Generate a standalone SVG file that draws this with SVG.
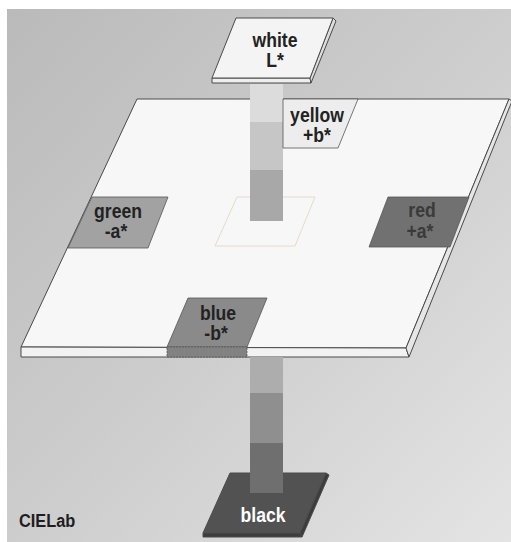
<svg xmlns="http://www.w3.org/2000/svg" width="511" height="542" viewBox="0 0 511 542">
  <defs>
    <linearGradient id="bg" x1="0" y1="0" x2="1" y2="1">
      <stop offset="0" stop-color="#bababa"/>
      <stop offset="0.5" stop-color="#cdcdcd"/>
      <stop offset="1" stop-color="#e4e4e4"/>
    </linearGradient>
  </defs>
  <style>
    .lbl { font-family: "Liberation Sans", Arial, sans-serif; font-weight: bold; font-size: 20px; text-anchor: middle; fill: #222; }
    .edge { stroke: #4a4a4a; stroke-width: 1; stroke-linejoin: round; }
    .tag { stroke: #555; stroke-width: 0.8; }
  </style>
  <rect x="0" y="0" width="511" height="542" fill="#ffffff"/>
  <rect x="7" y="9" width="504" height="533" fill="url(#bg)"/>

  <g id="plane">
    <polygon class="edge" points="137,99 509,99 406,348 21,347" fill="#f7f7f7"/>
    <polygon class="edge" points="21,347 406,348 409,357 21,357" fill="#f2f2f2"/>
    <polygon class="edge" points="509,99 512,101 409,357 406,348" fill="#e6e6e6"/>
    <polygon points="237,197 315,197 295,246 215,246" fill="none" stroke="#e2dccb" stroke-width="1"/>
  </g>

  <g id="black">
    <polygon class="edge" points="203,533 300,533 302,537 203,537" fill="#3c3c3c"/>
    <polygon class="edge" points="326,473 329,475 302,537 300,533" fill="#3c3c3c"/>
    <polygon class="edge" points="230,473 326,473 300,533 203,533" fill="#525252"/>
  </g>

  <g id="connectors">
    <rect x="250" y="84" width="33" height="38" fill="#dcdcdc"/>
    <rect x="250" y="122" width="33" height="48" fill="#c6c6c6"/>
    <rect x="250" y="170" width="33" height="51" fill="#a8a8a8"/>
    <rect x="250" y="357" width="33" height="36" fill="#adadad"/>
    <rect x="250" y="393" width="33" height="50" fill="#8f8f8f"/>
    <rect x="250" y="443" width="33" height="50" fill="#6f6f6f"/>
  </g>

  <g id="white">
    <polygon class="edge" points="212,78 310,78 311,83 212,83" fill="#eeeeee"/>
    <polygon class="edge" points="333,18 336,21 311,83 310,78" fill="#dddddd"/>
    <polygon class="edge" points="236,18 333,18 310,78 212,78" fill="#f4f4f4"/>
    <text class="lbl" transform="translate(275,47) scale(0.88,1)">white</text>
    <text class="lbl" transform="translate(275,67) scale(0.88,1)">L*</text>
  </g>

  <g id="yellow">
    <polygon class="tag" points="283,99 358,99 338,148 283,148" fill="#ededed"/>
    <text class="lbl" transform="translate(317,122) scale(0.88,1)">yellow</text>
    <text class="lbl" transform="translate(317,142) scale(0.88,1)">+b*</text>
  </g>

  <g id="green">
    <polygon class="tag" points="92,197 168,197 148,248 68,248" fill="#a2a2a2"/>
    <text class="lbl" transform="translate(118,218) scale(0.88,1)">green</text>
    <text class="lbl" transform="translate(116,238) scale(0.88,1)">-a*</text>
  </g>

  <g id="red">
    <polygon class="tag" points="388,197 469,197 450,247 369,247" fill="#717171"/>
    <text class="lbl" transform="translate(422,217) scale(0.88,1)" style="fill:#3a3a3a">red</text>
    <text class="lbl" transform="translate(420,238) scale(0.88,1)" style="fill:#3a3a3a">+a*</text>
  </g>

  <g id="blue">
    <polygon class="tag" points="188,298 267,298 247,347 167,347" fill="#8a8a8a"/>
    <polygon class="tag" points="167,347 247,347 247,357 167,357" fill="#828282" stroke-dasharray="2,1"/>
    <text class="lbl" transform="translate(218,320) scale(0.88,1)">blue</text>
    <text class="lbl" transform="translate(216,340) scale(0.88,1)">-b*</text>
  </g>

  <text class="lbl" transform="translate(263,522) scale(0.88,1)" style="fill:#ffffff">black</text>
  <text class="lbl" transform="translate(19,527) scale(0.86,1)" style="text-anchor:start;font-size:19px;fill:#1e1e1e">CIELab</text>
</svg>
